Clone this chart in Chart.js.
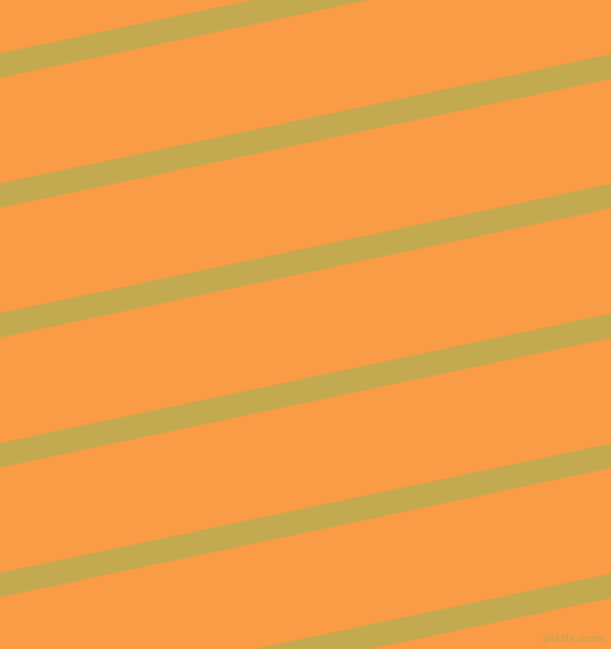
<!DOCTYPE html>
<html>
<head>
<meta charset="utf-8">
<script src="https://cdn.jsdelivr.net/npm/chart.js@4/dist/chart.umd.min.js"></script>
<style>
  html, body { margin: 0; padding: 0; background: #F99C45; overflow: hidden; }
  #wrap { width: 611px; height: 649px; position: relative; }
</style>
</head>
<body>
<div id="wrap"><canvas id="c"></canvas></div>
<script>
// Stripe centre positions (pixel-like units, y down)
const stripeXLeft = 0;
const stripeXRight = 611;
const stripeYLeft  = [65.5, 195.4, 325.3, 455.2, 585.1, 715.0];
const stripeYRight = [-63.4, 66.5, 195.9, 325.8, 455.8, 585.8];
const watermark = "pixlis.com";

const bgColor = "#F99C45";
const stripeColor = "#C3AA50";

const datasets = stripeYLeft.map((yl, i) => ({
  data: [{x: stripeXLeft, y: yl}, {x: stripeXRight, y: stripeYRight[i]}],
  borderColor: stripeColor,
  borderWidth: 24,
  borderCapStyle: 'square',
  pointRadius: 0,
  tension: 0,
  fill: false
}));

const bgPlugin = {
  id: 'bg',
  beforeDraw(chart) {
    const ctx = chart.ctx;
    ctx.save();
    ctx.fillStyle = bgColor;
    ctx.fillRect(0, 0, chart.width, chart.height);
    ctx.restore();
  },
  afterDraw(chart) {
    const ctx = chart.ctx;
    const xs = chart.scales.x, ys = chart.scales.y;
    ctx.save();
    ctx.font = "bold 11px 'DejaVu Sans', sans-serif";
    ctx.fillStyle = "rgba(200,165,80,0.8)";
    ctx.textAlign = "right";
    ctx.textBaseline = "middle";
    ctx.fillText(watermark, xs.getPixelForValue(605), ys.getPixelForValue(639));
    ctx.restore();
  }
};

new Chart(document.getElementById('c'), {
  type: 'line',
  data: { datasets },
  options: {
    responsive: true,
    maintainAspectRatio: false,
    animation: false,
    layout: { padding: 0 },
    plugins: { legend: { display: false }, tooltip: { enabled: false } },
    scales: {
      x: { type: 'linear', min: 0, max: 611, display: false },
      y: { type: 'linear', min: 0, max: 649, reverse: true, display: false }
    }
  },
  plugins: [bgPlugin]
});
</script>
</body>
</html>
